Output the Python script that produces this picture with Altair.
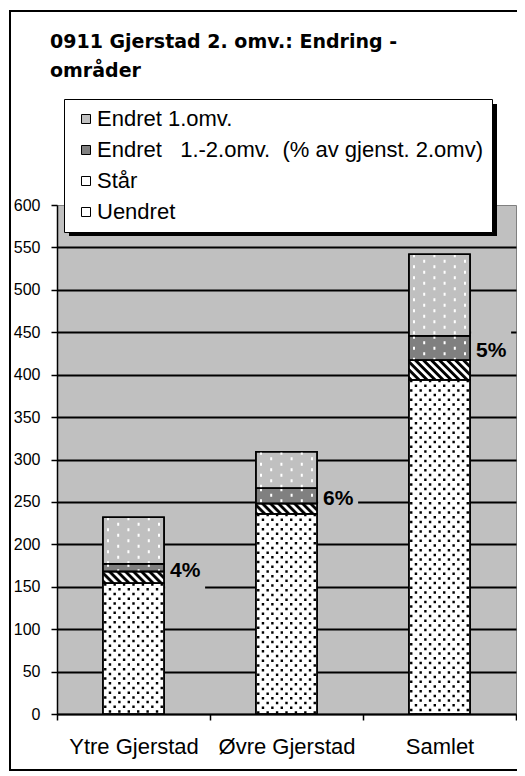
import altair as alt
import pandas as pd

# ---------------- data ----------------
categories = ["Ytre Gjerstad", "Øvre Gjerstad", "Samlet"]
series_names = [
    "Endret 1.omv.",
    "Endret\u00a0\u00a0 1.-2.omv.\u00a0 (% av gjenst. 2.omv)",
    "Står",
    "Uendret",
]
uendret = [154, 236, 394]
staar = [14, 12, 23]
endret_12 = [9, 18, 29]
endret_1 = [55, 43, 96]
pct_labels = ["4%", "6%", "5%"]
y_ticks = [0, 50, 100, 150, 200, 250, 300, 350, 400, 450, 500, 550, 600]
title_lines = ["0911 Gjerstad 2. omv.: Endring -", "områder"]

S_E1, S_E12, S_ST, S_U = series_names

# ---------------- tables built from the lists ----------------
rows = []
for i, c in enumerate(categories):
    base = 0
    for s, vals in [(S_U, uendret), (S_ST, staar), (S_E12, endret_12), (S_E1, endret_1)]:
        v = vals[i]
        rows.append({"cat": c, "series": s, "y0": base, "y1": base + v})
        base += v
seg = pd.DataFrame(rows)

lab = pd.DataFrame({
    "cat": categories,
    "label": pct_labels,
    "ymid": [u + s + e / 2 for u, s, e in zip(uendret, staar, endret_12)],
})

FONT = "Liberation Sans"
PLOT_W, PLOT_H = 459, 509
STEP = PLOT_W / 3
BAR_PX = STEP * 0.4
HALF_BAR = BAR_PX / 2

x_axis = alt.Axis(title=None, labelAngle=0, tickBand="extent", labelFontSize=22,
                  labelFont=FONT, labelColor="black", domainColor="black",
                  domainWidth=1.5, tickColor="black", tickWidth=1.5, tickSize=6,
                  labelPadding=16, grid=False)
y_axis = alt.Axis(title=None, values=y_ticks, labelFontSize=16, labelFont=FONT,
                  labelColor="black", domainColor="black", domainWidth=1.5,
                  tickColor="black", tickWidth=1.5, tickSize=6, labelPadding=11,
                  grid=True, gridColor="black", gridWidth=2,
                  gridOpacity={"condition": {"test": "datum.value === 600", "value": 0}, "value": 1})

X = alt.X("cat:N", sort=categories, scale=alt.Scale(paddingInner=0, paddingOuter=0), axis=x_axis)
xscale_off = alt.Scale(domain=[0, 1], range=[STEP / 2 - HALF_BAR, STEP / 2 + HALF_BAR])
yscale = alt.Scale(domain=[0, 600], nice=False)


def Y(field):
    return alt.Y(field, scale=yscale, axis=y_axis)


fill_scale = alt.Scale(domain=series_names, range=["#c0c0c0", "#808080", "#ffffff", "#ffffff"])

dash_keys = ["u0", "u1", "s0", "s1", "s2", "s3", "s4", "s5", "s6", "s7", "e0", "e1"]
dash_vals = [[2.5, 6.9], [0, 4.7, 2.5, 2.2],
             [4, 4], [0, 1, 4, 3], [0, 2, 4, 2], [0, 3, 4, 1], [0, 4, 4, 0],
             [1, 4, 3, 0], [2, 4, 2, 0], [3, 4, 1, 0],
             [3, 8], [0, 5.5, 3, 2.5]]
dash_scale = alt.Scale(domain=dash_keys, range=dash_vals)

# decorative frame and legend shadow
frame = alt.Chart(pd.DataFrame({"a": [0]})).mark_rect(
    fill="white", fillOpacity=0, stroke="black", strokeWidth=2
).encode(x=alt.value(-47), x2=alt.value(490), y=alt.value(-194), y2=alt.value(565))

shadow = alt.Chart(pd.DataFrame({"a": [0]})).mark_rect(color="black").encode(
    x=alt.value(12), x2=alt.value(440), y=alt.value(-101), y2=alt.value(31))

bars = alt.Chart(seg).mark_bar(width=BAR_PX, stroke="black", strokeWidth=1.5).encode(
    x=X,
    y=Y("y1:Q"),
    y2="y0:Q",
    fill=alt.Fill("series:N", scale=fill_scale, legend=alt.Legend(
        title=None, orient="none", legendX=7, legendY=-106, fillColor="white",
        strokeColor="black", padding=9, symbolType="square", symbolSize=81,
        symbolStrokeColor="black", symbolStrokeWidth=1, labelFontSize=22,
        labelFont=FONT, labelColor="black", rowPadding=9, symbolOffset=2,
        labelOffset=0, labelLimit=0)),
)


def pattern(series_name, ncols, prefix, modn, color, width):
    return alt.Chart(seg).transform_filter(
        alt.datum.series == series_name
    ).transform_calculate(
        col=f"sequence(0, {ncols})"
    ).transform_flatten(["col"]).transform_calculate(
        frac=f"(datum.col + 0.5) / {ncols}",
        key=f"'{prefix}' + (datum.col % {modn})",
    ).mark_rule(color=color, strokeWidth=width).encode(
        x=X,
        y=Y("y1:Q"),
        y2="y0:Q",
        xOffset=alt.XOffset("frac:Q", scale=xscale_off),
        strokeDash=alt.StrokeDash("key:N", scale=dash_scale, legend=None),
    )


dots = pattern(S_U, 13, "u", 2, "black", 2.4)
hatch = pattern(S_ST, 61, "s", 8, "black", 1.1)
marks1 = pattern(S_E1, 6, "e", 2, "white", 2)
marks12 = pattern(S_E12, 6, "e", 2, "white", 2)

outline = alt.Chart(seg).mark_bar(width=BAR_PX, fill="white", fillOpacity=0,
                                  stroke="black", strokeWidth=1.5).encode(
    x=X, y=Y("y1:Q"), y2="y0:Q")

boxes = alt.Chart(lab).mark_square(size=1600, color="#c0c0c0", filled=True, opacity=1,
                                   strokeWidth=0, xOffset=HALF_BAR + 21, yOffset=3).encode(
    x=X, y=Y("ymid:Q"))

texts = alt.Chart(lab).mark_text(align="left", baseline="middle", xOffset=HALF_BAR + 6,
                                 yOffset=3, fontSize=21, fontWeight="bold", font=FONT,
                                 color="black").encode(
    x=X, y=Y("ymid:Q"), text="label:N")

chart = alt.layer(frame, shadow, bars, dots, hatch, marks1, marks12, outline, boxes, texts).properties(
    width=PLOT_W,
    height=PLOT_H,
    padding={"left": 49, "top": 197, "right": 1, "bottom": 58},
    autosize=alt.AutoSizeParams(type="none"),
    title=alt.TitleParams(title_lines, anchor="start", frame="group", font="DejaVu Sans",
                          fontSize=19, fontWeight="bold", color="black", lineHeight=29,
                          dx=-7, offset=-71),
).configure_view(fill="#c0c0c0", stroke="#808080", strokeWidth=1)

chart.save("out.html", embed_options={"renderer": "svg", "actions": False})
